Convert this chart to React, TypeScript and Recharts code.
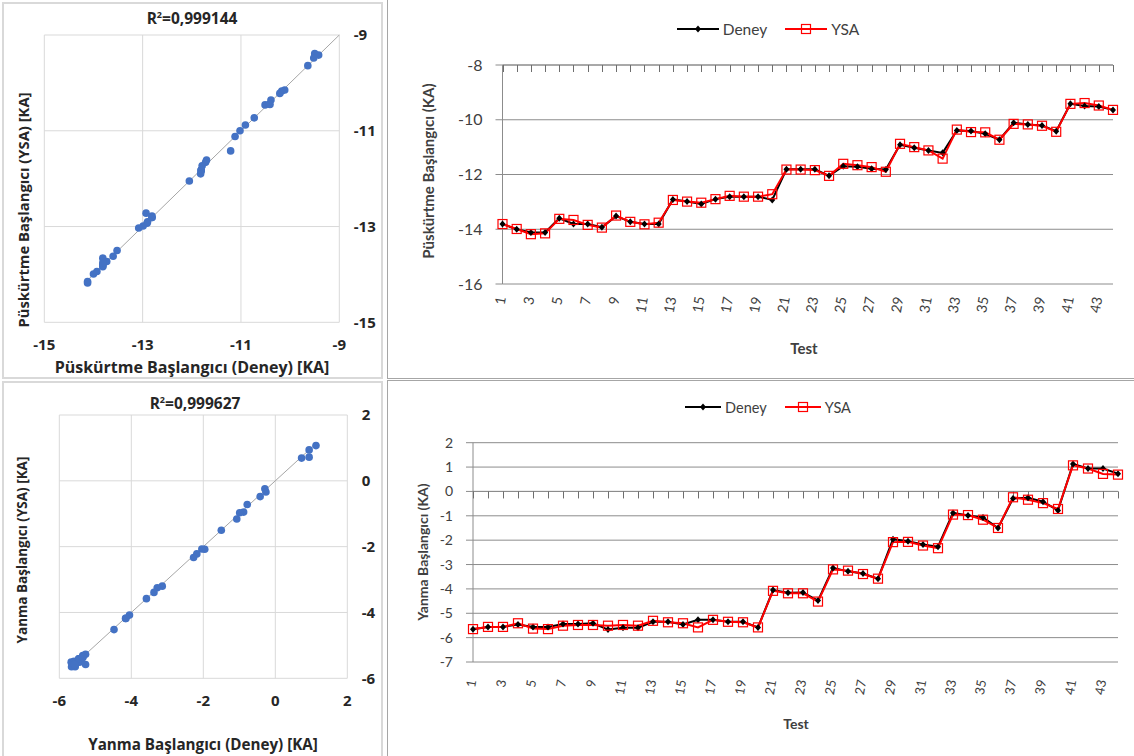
import React from 'react';
import {
  LineChart, Line, XAxis, YAxis, CartesianGrid, Legend,
  ScatterChart, Scatter, ReferenceLine,
} from 'recharts';

const tests = [
  '1', '2', '3', '4', '5', '6', '7', '8', '9', '10', '11', '12', '13', '14', '15',
  '16', '17', '18', '19', '20', '21', '22', '23', '24', '25', '26', '27', '28', '29',
  '30', '31', '32', '33', '34', '35', '36', '37', '38', '39', '40', '41', '42', '43', '44',
];

// Püskürtme başlangıcı (KA)
const puskurtmeDeney = [
  -13.81, -14.0, -14.12, -14.12, -13.6, -13.81, -13.81, -13.93, -13.52, -13.73, -13.81,
  -13.81, -12.91, -12.99, -13.08, -12.9, -12.81, -12.81, -12.81, -12.93, -11.81, -11.81,
  -11.81, -12.05, -11.7, -11.72, -11.79, -11.82, -10.91, -11.02, -11.12, -11.21, -10.39,
  -10.41, -10.51, -10.73, -10.11, -10.17, -10.21, -10.42, -9.42, -9.5, -9.52, -9.64,
];
const puskurtmeYsa = [
  -13.81, -13.99, -14.18, -14.15, -13.62, -13.66, -13.84, -13.94, -13.5, -13.73, -13.82,
  -13.76, -12.93, -12.99, -13.03, -12.9, -12.78, -12.81, -12.81, -12.72, -11.82, -11.82,
  -11.84, -12.05, -11.61, -11.66, -11.73, -11.9, -10.88, -11.0, -11.12, -11.42, -10.36,
  -10.45, -10.46, -10.73, -10.15, -10.17, -10.22, -10.44, -9.42, -9.39, -9.48, -9.64,
];

// Yanma başlangıcı (KA)
const yanmaDeney = [
  -5.66, -5.56, -5.56, -5.46, -5.56, -5.56, -5.44, -5.44, -5.41, -5.67, -5.59,
  -5.59, -5.35, -5.35, -5.46, -5.27, -5.27, -5.35, -5.35, -5.58, -4.05, -4.16,
  -4.15, -4.48, -3.14, -3.28, -3.37, -3.58, -1.96, -2.04, -2.18, -2.27, -0.88,
  -0.99, -1.07, -1.5, -0.29, -0.26, -0.42, -0.78, 1.13, 0.94, 0.94, 0.73,
];
const yanmaYsa = [
  -5.65, -5.56, -5.56, -5.41, -5.63, -5.65, -5.51, -5.48, -5.48, -5.51, -5.48,
  -5.51, -5.31, -5.37, -5.41, -5.58, -5.27, -5.35, -5.37, -5.58, -4.08, -4.18,
  -4.18, -4.52, -3.2, -3.25, -3.39, -3.58, -2.08, -2.07, -2.22, -2.33, -0.95,
  -0.97, -1.16, -1.5, -0.24, -0.34, -0.48, -0.72, 1.07, 0.94, 0.72, 0.69,
];

const puskurtmeTicks = [-16, -14, -12, -10, -8];
const yanmaTicks = [-7, -6, -5, -4, -3, -2, -1, 0, 1, 2];
const puskurtmeScatterTicks = [-15, -13, -11, -9];
const yanmaScatterTicks = [-6, -4, -2, 0, 2];

const puskurtmeR2 = '0,999144';
const yanmaR2 = '0,999627';

const GRID_DARK = '#8c8c8c';
const TICK_MARK = '#6e6e6e';
const GRID_LIGHT = '#d9d9d9';
const TEXT = '#404040';
const LINE_FONT = 'Lato, "Open Sans", sans-serif';
const SCATTER_FONT = '"Open Sans", "Noto Sans", sans-serif';

const diamondDot = (p: any) => (
  <path
    key={`d-${p.index}`}
    d={`M${p.cx},${p.cy - 3.5}L${p.cx + 3},${p.cy}L${p.cx},${p.cy + 3.5}L${p.cx - 3},${p.cy}Z`}
    fill="#000"
  />
);

const squareDot = (p: any) => (
  <rect
    key={`s-${p.index}`}
    x={p.cx - 4.5}
    y={p.cy - 4.5}
    width={9}
    height={9}
    fill="none"
    stroke="#ff0000"
    strokeWidth={1.2}
  />
);

// small tick mark hanging below the category axis line
const axisTickDot = (p: any) => (
  <rect
    key={`t-${p.index}`}
    x={Math.round(p.cx)}
    y={p.cy}
    width={1}
    height={7}
    fill={TICK_MARK}
    stroke="none"
  />
);

const rotatedTick = (fontSize: number) => (p: any) => (
  <text
    x={p.x}
    y={p.y}
    transform={`rotate(-80 ${p.x} ${p.y})`}
    textAnchor="end"
    dominantBaseline="middle"
    fontSize={fontSize}
    fontFamily={LINE_FONT}
    fill={TEXT}
  >
    {p.payload.value}
  </text>
);

const legendContent = (fontSize: number, iconW: number) => (props: any) => (
  <div style={{ display: 'flex', justifyContent: 'center', gap: 18, height: 18, alignItems: 'center' }}>
    {(props.payload || [])
      .filter((e: any) => e.value === 'Deney' || e.value === 'YSA')
      .map((e: any) => (
        <div key={e.value} style={{ display: 'flex', alignItems: 'center', gap: 4 }}>
          <svg width={iconW} height={12}>
            <line x1={0} y1={6} x2={iconW} y2={6} stroke={e.color} strokeWidth={2} />
            {e.value === 'Deney' ? (
              <path d={`M${iconW / 2},2.5L${iconW / 2 + 3},6L${iconW / 2},9.5L${iconW / 2 - 3},6Z`} fill="#000" />
            ) : (
              <rect x={iconW / 2 - 4.5} y={1.5} width={9} height={9} fill="none" stroke="#ff0000" strokeWidth={1.2} />
            )}
          </svg>
          <span style={{ fontFamily: LINE_FONT, fontSize, color: TEXT }}>{e.value}</span>
        </div>
      ))}
  </div>
);

type LinePanelProps = {
  left: number; top: number; width: number; height: number;
  margin: { top: number; right: number; left: number; bottom: number };
  deney: number[]; ysa: number[];
  yTicks: number[]; axisValue: number;
  yFont: number; catFont: number; catMargin: number;
  legendTop: number; legendFont: number; legendIcon: number;
};

const LinePanel: React.FC<LinePanelProps> = (pr) => {
  const data = tests.map((t, i) => ({ test: t, deney: pr.deney[i], ysa: pr.ysa[i], axisMark: pr.axisValue }));
  return (
    <div style={{ position: 'absolute', left: pr.left, top: pr.top }}>
      <LineChart width={pr.width} height={pr.height} data={data} margin={pr.margin}>
        <CartesianGrid vertical={false} stroke={GRID_DARK} />
        <XAxis
          dataKey="test"
          scale="point"
          interval={1}
          axisLine={false}
          tickLine={false}
          tickSize={0}
          tickMargin={pr.catMargin}
          height={40}
          tick={rotatedTick(pr.catFont)}
        />
        <YAxis
          type="number"
          domain={[pr.yTicks[0], pr.yTicks[pr.yTicks.length - 1]]}
          ticks={pr.yTicks}
          interval={0}
          width={60}
          axisLine={{ stroke: GRID_DARK }}
          tickLine={{ stroke: GRID_DARK }}
          tickSize={7}
          tickMargin={13}
          tick={{ fill: TEXT, fontSize: pr.yFont, fontFamily: LINE_FONT }}
        />
        <Legend
          verticalAlign="middle"
          align="center"
          wrapperStyle={{ top: pr.legendTop, left: 0, width: 762 }}
          content={legendContent(pr.legendFont, pr.legendIcon)}
        />
        <Line
          dataKey="axisMark"
          name="axisMark"
          legendType="none"
          stroke={GRID_DARK}
          strokeWidth={1}
          dot={axisTickDot}
          activeDot={false}
          isAnimationActive={false}
        />
        <Line
          dataKey="deney"
          name="Deney"
          type="linear"
          stroke="#000"
          strokeWidth={2}
          dot={diamondDot}
          isAnimationActive={false}
        />
        <Line
          dataKey="ysa"
          name="YSA"
          type="linear"
          stroke="#ff0000"
          strokeWidth={2}
          dot={squareDot}
          isAnimationActive={false}
        />
      </LineChart>
    </div>
  );
};

type ScatterPanelProps = {
  left: number; top: number; width: number; height: number;
  margin: { top: number; right: number; left: number; bottom: number };
  deney: number[]; ysa: number[]; ticks: number[]; yAxisWidth: number;
  lineEnd: number;
};

const ScatterPanel: React.FC<ScatterPanelProps> = (pr) => {
  const pts = pr.deney.map((d, i) => ({ x: d, y: pr.ysa[i] }));
  const lo = Math.min(...pr.deney);
  const dom: [number, number] = [pr.ticks[0], pr.ticks[pr.ticks.length - 1]];
  const tickStyle = { fill: '#262626', fontSize: 15, fontWeight: 700, fontFamily: SCATTER_FONT };
  return (
    <div style={{ position: 'absolute', left: pr.left, top: pr.top }}>
      <ScatterChart width={pr.width} height={pr.height} margin={pr.margin}>
        <CartesianGrid stroke={GRID_LIGHT} />
        <XAxis
          type="number"
          dataKey="x"
          domain={dom}
          ticks={pr.ticks}
          interval={0}
          height={30}
          axisLine={false}
          tickLine={false}
          tickSize={0}
          tickMargin={17}
          tick={tickStyle}
        />
        <YAxis
          type="number"
          dataKey="y"
          orientation="right"
          domain={dom}
          ticks={pr.ticks}
          interval={0}
          width={pr.yAxisWidth}
          axisLine={false}
          tickLine={false}
          tickSize={0}
          tickMargin={14.5}
          tick={{ ...tickStyle, textAnchor: 'start' }}
        />
        <ReferenceLine
          segment={[{ x: lo, y: lo }, { x: pr.lineEnd, y: pr.lineEnd }]}
          stroke="#a6a6a6"
          strokeWidth={1}
          ifOverflow="visible"
        />
        <Scatter
          data={pts}
          isAnimationActive={false}
          shape={(p: any) => <circle cx={p.cx} cy={p.cy} r={3.8} fill="#4472C4" />}
        />
      </ScatterChart>
    </div>
  );
};

const Label: React.FC<{ x: number; y: number; size: number; rotate?: boolean; font?: string; children: React.ReactNode }> = ({
  x, y, size, rotate, font, children,
}) => (
  <div
    style={{
      position: 'absolute',
      left: x,
      top: y,
      transform: `translate(-50%, -50%)${rotate ? ' rotate(-90deg)' : ''}`,
      whiteSpace: 'nowrap',
      fontFamily: font || SCATTER_FONT,
      fontWeight: 700,
      fontSize: size,
      color: font === LINE_FONT ? TEXT : '#262626',
      lineHeight: 1,
    }}
  >
    {children}
  </div>
);

const box = (left: number, top: number, width: number, height: number, color: string, bw: number) => (
  <div
    style={{
      position: 'absolute', left, top, width, height, boxSizing: 'border-box',
      border: `${bw}px solid ${color}`,
    }}
  />
);

export default function App() {
  return (
    <div style={{ position: 'absolute', left: 0, top: 0, width: 1134, height: 756, overflow: 'hidden', background: '#fff' }}>
      {box(2, 2, 381, 377, GRID_LIGHT, 2)}
      {box(2, 381, 381, 380, GRID_LIGHT, 2)}
      {box(387, -2, 752, 381, '#a6a6a6', 1)}
      {box(387, 380, 752, 380, '#a6a6a6', 1)}

      <ScatterPanel
        left={0} top={0} width={382} height={378}
        margin={{ top: 35, right: 6.7, left: 44.3, bottom: 25.7 }}
        deney={puskurtmeDeney} ysa={puskurtmeYsa} ticks={puskurtmeScatterTicks}
        yAxisWidth={36} lineEnd={-9}
      />
      <ScatterPanel
        left={0} top={380} width={382} height={376}
        margin={{ top: 35, right: 4.7, left: 59.3, bottom: 47.7 }}
        deney={yanmaDeney} ysa={yanmaYsa} ticks={yanmaScatterTicks}
        yAxisWidth={30} lineEnd={Math.max(...yanmaDeney)}
      />

      <LinePanel
        left={387} top={0} width={747} height={378}
        margin={{ top: 65, right: 21, left: 55.5, bottom: 54 }}
        deney={puskurtmeDeney} ysa={puskurtmeYsa}
        yTicks={puskurtmeTicks} axisValue={-8}
        yFont={16} catFont={14} catMargin={13}
        legendTop={20} legendFont={15.5} legendIcon={42}
      />
      <LinePanel
        left={387} top={382} width={747} height={374}
        margin={{ top: 60.7, right: 16, left: 26, bottom: 54 }}
        deney={yanmaDeney} ysa={yanmaYsa}
        yTicks={yanmaTicks} axisValue={0}
        yFont={14} catFont={13} catMargin={18}
        legendTop={16} legendFont={14.5} legendIcon={36}
      />

      <Label x={192} y={18} size={15.5}>R<sup style={{ fontSize: 9 }}>2</sup>={puskurtmeR2}</Label>
      <Label x={192} y={367} size={16}>Püskürtme Başlangıcı (Deney) [KA]</Label>
      <Label x={23} y={210} size={14.8} rotate>Püskürtme Başlangıcı (YSA) [KA]</Label>

      <Label x={195} y={403} size={15.5}>R<sup style={{ fontSize: 9 }}>2</sup>={yanmaR2}</Label>
      <Label x={203} y={745} size={15.2}>Yanma Başlangıcı (Deney) [KA]</Label>
      <Label x={23} y={550} size={13.5} rotate>Yanma Başlangıcı (YSA) [KA]</Label>

      <Label x={428} y={171} size={15} rotate font={LINE_FONT}>Püskürtme Başlangıcı (KA)</Label>
      <Label x={804} y={348} size={15} font={LINE_FONT}>Test</Label>
      <Label x={423} y={552} size={14} rotate font={LINE_FONT}>Yanma Başlangıcı (KA)</Label>
      <Label x={796} y={724} size={14} font={LINE_FONT}>Test</Label>
    </div>
  );
}
